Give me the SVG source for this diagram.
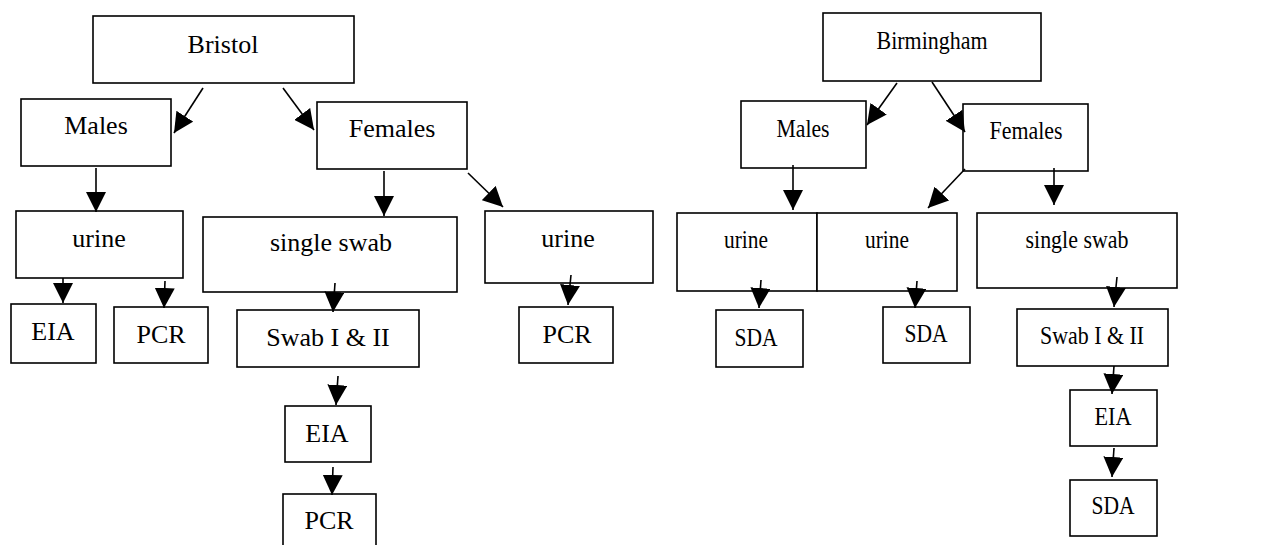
<svg xmlns="http://www.w3.org/2000/svg" width="1287" height="545" viewBox="0 0 1287 545">
  <style>
    .box rect { fill: #ffffff; stroke: #000000; stroke-width: 1.6; }
    .box text { font-family: "Liberation Serif", "Times New Roman", serif; font-size: 26px; fill: #000000; text-anchor: middle; }
    .links line { stroke: #000000; stroke-width: 1.6; marker-end: url(#head); }
  </style>
  <defs>
    <marker id="head" viewBox="0 0 20 20" refX="20" refY="10" markerWidth="20" markerHeight="20" markerUnits="userSpaceOnUse" orient="auto">
      <path d="M0,0 L20,10 L0,20 Z" fill="#000000"/>
    </marker>
  </defs>
  <rect width="1287" height="545" fill="#ffffff"/>

  <!-- Bristol tree -->
  <g id="bristol" class="box"><rect x="93" y="16" width="261" height="67"/><text x="223" y="53">Bristol</text></g>
  <g id="bristol-males" class="box"><rect x="21" y="99" width="150" height="67"/><text x="96" y="134">Males</text></g>
  <g id="bristol-females" class="box"><rect x="317" y="102" width="150" height="67"/><text x="392" y="137">Females</text></g>
  <g id="bristol-males-urine" class="box"><rect x="16" y="211" width="167" height="67"/><text x="99" y="247">urine</text></g>
  <g id="bristol-single-swab" class="box"><rect x="203" y="217" width="254" height="75"/><text x="331" y="251">single swab</text></g>
  <g id="bristol-females-urine" class="box"><rect x="485" y="211" width="168" height="72"/><text x="568" y="247">urine</text></g>
  <g id="bristol-eia-1" class="box"><rect x="11" y="304" width="85" height="59"/><text x="53" y="340">EIA</text></g>
  <g id="bristol-pcr-1" class="box"><rect x="114" y="307" width="94" height="56"/><text x="161" y="343">PCR</text></g>
  <g id="bristol-swab-pair" class="box"><rect x="237" y="310" width="182" height="57"/><text x="328" y="346">Swab I &amp; II</text></g>
  <g id="bristol-pcr-2" class="box"><rect x="519" y="307" width="94" height="56"/><text x="567" y="343">PCR</text></g>
  <g id="bristol-eia-2" class="box"><rect x="285" y="406" width="86" height="56"/><text x="327" y="442">EIA</text></g>
  <g id="bristol-pcr-3" class="box"><rect x="283" y="494" width="93" height="70"/><text x="329" y="529">PCR</text></g>

  <!-- Birmingham tree -->
  <g id="birmingham" class="box"><rect x="823" y="13" width="218" height="68"/><text x="932" y="49" textLength="111" lengthAdjust="spacingAndGlyphs">Birmingham</text></g>
  <g id="birmingham-males" class="box"><rect x="741" y="101" width="125" height="67"/><text x="803" y="137" textLength="53" lengthAdjust="spacingAndGlyphs">Males</text></g>
  <g id="birmingham-females" class="box"><rect x="963" y="104" width="125" height="67"/><text x="1026" y="139" textLength="73" lengthAdjust="spacingAndGlyphs">Females</text></g>
  <g id="birmingham-males-urine" class="box"><rect x="677" y="213" width="140" height="78"/><text x="746" y="248" textLength="44" lengthAdjust="spacingAndGlyphs">urine</text></g>
  <g id="birmingham-females-urine" class="box"><rect x="817" y="213" width="140" height="78"/><text x="887" y="248" textLength="44" lengthAdjust="spacingAndGlyphs">urine</text></g>
  <g id="birmingham-single-swab" class="box"><rect x="977" y="213" width="200" height="75"/><text x="1077" y="248" textLength="103" lengthAdjust="spacingAndGlyphs">single swab</text></g>
  <g id="birmingham-sda-1" class="box"><rect x="716" y="310" width="87" height="57"/><text x="756" y="346" textLength="43" lengthAdjust="spacingAndGlyphs">SDA</text></g>
  <g id="birmingham-sda-2" class="box"><rect x="883" y="307" width="87" height="56"/><text x="926" y="342" textLength="43" lengthAdjust="spacingAndGlyphs">SDA</text></g>
  <g id="birmingham-swab-pair" class="box"><rect x="1017" y="309" width="151" height="57"/><text x="1092" y="344" textLength="104" lengthAdjust="spacingAndGlyphs">Swab I &amp; II</text></g>
  <g id="birmingham-eia" class="box"><rect x="1070" y="390" width="87" height="56"/><text x="1113" y="425" textLength="37" lengthAdjust="spacingAndGlyphs">EIA</text></g>
  <g id="birmingham-sda-3" class="box"><rect x="1070" y="480" width="87" height="56"/><text x="1113" y="514" textLength="43" lengthAdjust="spacingAndGlyphs">SDA</text></g>

  <!-- connectors -->
  <g id="connectors" class="links">
    <line x1="203" y1="88" x2="174" y2="133"/>
    <line x1="283" y1="88" x2="314" y2="130"/>
    <line x1="96" y1="168" x2="96" y2="212"/>
    <line x1="384" y1="171" x2="384" y2="216"/>
    <line x1="468" y1="173" x2="503" y2="207"/>
    <line x1="63" y1="278" x2="63" y2="303"/>
    <line x1="165" y1="281" x2="164" y2="308"/>
    <line x1="335" y1="283" x2="333" y2="312"/>
    <line x1="571" y1="275" x2="568" y2="305"/>
    <line x1="338" y1="376" x2="336" y2="405"/>
    <line x1="333" y1="467" x2="332" y2="495"/>

    <line x1="897" y1="83" x2="867" y2="125"/>
    <line x1="932" y1="82" x2="965" y2="132"/>
    <line x1="793" y1="165" x2="793" y2="210"/>
    <line x1="965" y1="169" x2="928" y2="208"/>
    <line x1="1054" y1="168" x2="1054" y2="205"/>
    <line x1="761" y1="280" x2="759" y2="308"/>
    <line x1="917" y1="281" x2="915" y2="308"/>
    <line x1="1117" y1="277" x2="1114" y2="307"/>
    <line x1="1114" y1="366" x2="1112" y2="394"/>
    <line x1="1114" y1="448" x2="1112" y2="477"/>
  </g>
</svg>
